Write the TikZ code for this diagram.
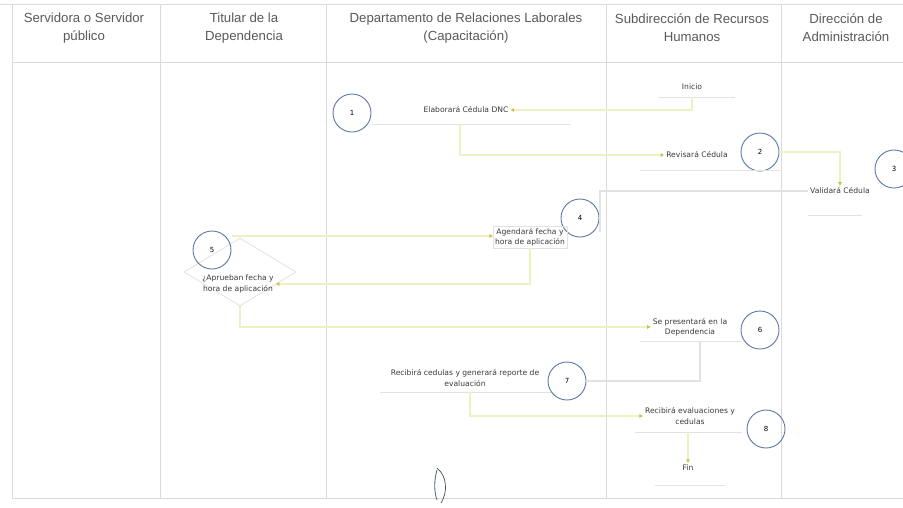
\documentclass[tikz,border=0pt]{standalone}
\usepackage{fontspec}
\setmainfont{Liberation Sans}
\newfontfamily\stepfont{DejaVu Sans}
\usetikzlibrary{arrows.meta,shapes.geometric}
\definecolor{lanegray}{HTML}{DADADA}
\definecolor{flowline}{HTML}{ECF2C2}
\definecolor{tipcol}{HTML}{CCC24A}
\definecolor{circblue}{HTML}{5A78A8}
\definecolor{txtcol}{HTML}{3A3A3A}
\definecolor{headcol}{HTML}{5A5A5A}
\definecolor{boxline}{HTML}{E2E2E2}
\tikzset{
  lane/.style={draw=lanegray, line width=0.8pt},
  head/.style={font=\fontsize{13.2}{18}\selectfont, text=headcol, align=center},
  stepnum/.style={circle, draw=circblue, line width=0.9pt, minimum size=38pt, inner sep=0pt, font=\stepfont\fontsize{7}{8}\selectfont, text=black},
  stepbox/.style={font=\stepfont\fontsize{7.6}{10.5}\selectfont, text=txtcol, align=center, inner sep=2pt},
  under/.style={draw=boxline, line width=0.9pt},
  flow/.style={draw=flowline, line width=1.5pt, -{Triangle[length=3.5pt,width=3.5pt,color=tipcol]}},
  flowplain/.style={draw=boxline, line width=1.2pt},
}
\begin{document}
\begin{tikzpicture}[x=1pt,y=-1pt]
\useasboundingbox (0,0) rectangle (903,507);
\fill[white] (0,0) rectangle (903,507);
% lanes
\draw[lane] (0,4) -- (903,4);
\draw[lane] (12,62) -- (903,62);
\draw[lane] (12,4) -- (12,498);
\draw[lane] (160,4) -- (160,498);
\draw[lane] (326,4) -- (326,498);
\draw[lane] (606,4) -- (606,498);
\draw[lane] (781,4) -- (781,498);
\draw[lane] (12,498) -- (903,498);
% headers
\node[head] (h1) at (84,28) {Servidora o Servidor\\público};
\node[head] (h2) at (244,28) {Titular de la\\Dependencia};
\node[head] (h3) at (466,28) {Departamento de Relaciones Laborales\\(Capacitación)};
\node[head] (h4) at (692,28) {Subdirección de Recursos\\Humanos};
\node[head] (h5) at (846,28) {Dirección de\\Administración};
% nodes
\node[stepbox] (ini) at (692,87) {Inicio};
\draw[under] (658,97) -- (735,97);
\node[stepnum] (c1) at (352,113) {1};
\node[stepbox] (t1) at (466,110) {Elaborará Cédula DNC};
\draw[under] (372,124) -- (570,124);
\node[stepnum] (c2) at (760,152) {2};
\node[stepbox] (t2) at (697,155) {Revisará Cédula};
\draw[under] (640,170) -- (780,170);
\node[stepnum] (c3) at (894,169) {3};
\node[stepbox] (t3) at (840,191) {Validará Cédula};
\draw[under] (808,215) -- (862,215);
\node[stepnum] (c4) at (580,218) {4};
\node[stepbox, draw=boxline] (t4) at (530,237) {Agendará fecha y\\hora de aplicación};
\node[draw=boxline, line width=0.8pt, diamond, aspect=1.6, minimum width=112pt, minimum height=68pt] (d5) at (240,272) {};
\node[stepnum] (c5) at (212,250) {5};
\node[stepbox] (t5) at (238,284) {¿Aprueban fecha y\\hora de aplicación};
\node[stepbox] (t6) at (690,327) {Se presentará en la\\Dependencia};
\draw[under] (640,341) -- (742,341);
\node[stepnum] (c6) at (760,330) {6};
\node[stepbox] (t7) at (465,378) {Recibirá cedulas y generará reporte de\\evaluación};
\draw[under] (380,392) -- (552,392);
\node[stepnum] (c7) at (567,381) {7};
\node[stepbox] (t8) at (690,416) {Recibirá evaluaciones y\\cedulas};
\draw[under] (635,432) -- (742,432);
\node[stepnum] (c8) at (766,429) {8};
\node[stepbox] (fin) at (688,468) {Fin};
\draw[under] (655,485) -- (725,485);
% connectors
\coordinate (a1) at (692,97);
\draw[flow] (a1) |- (t1.east);
\coordinate (a2) at (460,124);
\draw[flow] (a2) |- (t2.west);
\draw[flow] (c2.east) -| (t3.north);
\draw[flowplain] (t3.west) -| (600,232);
\coordinate (a5) at (232,236);
\draw[flow] (a5) -- (t4.west |- a5);
\draw[flow] (t4.south) |- (t5.east);
\draw[flow] (d5.south) |- (t6.west);
\coordinate (a6) at (700,341);
\draw[flowplain] (a6) |- (c7.east);
\coordinate (a7) at (470,392);
\draw[flow] (a7) |- (t8.west);
\coordinate (a8) at (688,432);
\draw[flow] (a8) -- (fin.north);
% handwritten mark
\draw[circblue!80!black, line width=0.8pt] (437,470) .. controls (434,480) and (434,492) .. (437,500);
\draw[black!70, line width=0.7pt] (437,468) .. controls (447,476) and (448,492) .. (441,503);
\end{tikzpicture}
\end{document}
